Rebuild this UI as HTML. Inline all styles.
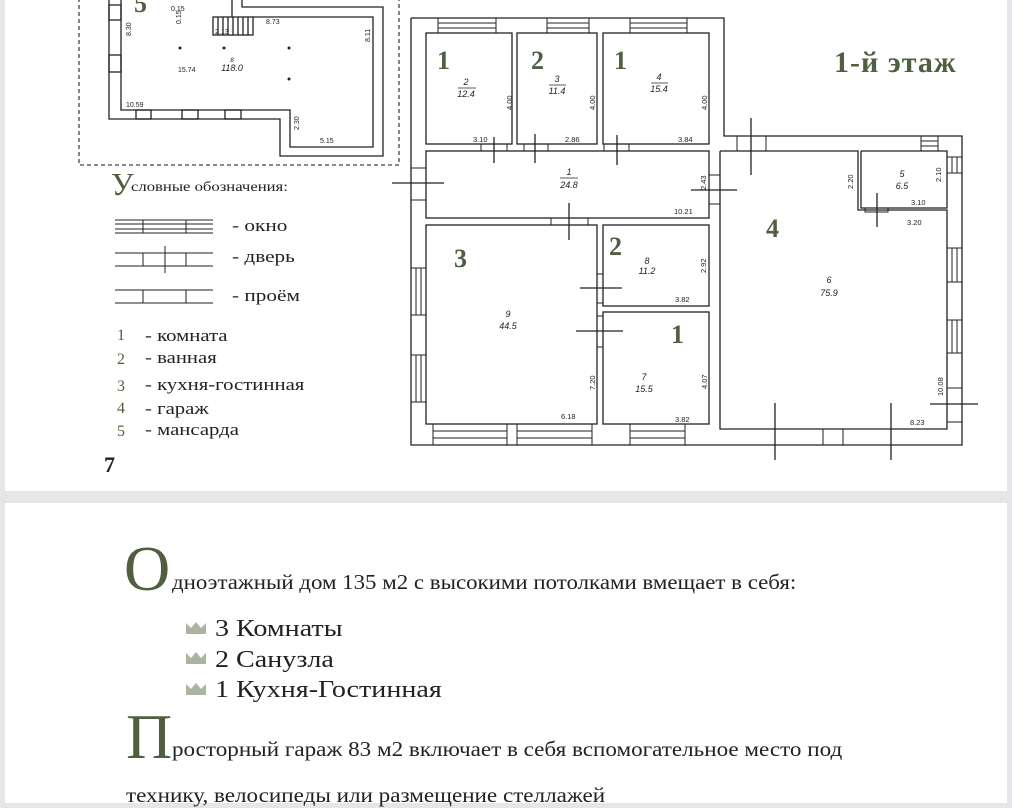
<!DOCTYPE html>
<html><head><meta charset="utf-8"><style>
body{margin:0;width:1012px;height:785px;background:#e6e6e9;position:relative;overflow:hidden;font-family:"Liberation Serif",serif}
.card{position:absolute;left:5px;right:5px;background:#fff}
.t{position:absolute;white-space:nowrap;color:#222;transform-origin:0 0}
.g{color:#4f5f3f}
</style></head><body>
<div class="card" style="top:0;height:491px"></div>
<div class="card" style="top:503px;height:300px"></div>
<svg style="position:absolute;left:0;top:0" width="1012" height="500" font-family="Liberation Sans, sans-serif">
<g fill="none" stroke="#222" stroke-width="1.3">
<rect x="79" y="-5" width="320" height="170" stroke-dasharray="4,3" stroke="#444"/>
<polyline points="109,0 109,119 280,119 280,156 383,156 383,7 242,7 242,0"/>
<polyline points="121,0 121,110 290,110 290,147 373,147 373,17 253,17"/>
<line x1="232" y1="0" x2="232" y2="17"/>
<rect x="213" y="17" width="40" height="18"/>
<path d="M218,17v18M223,17v18M228,17v18M233,17v18M238,17v18M243,17v18M248,17v18"/>
<rect x="109" y="5" width="12" height="15"/><rect x="109" y="55" width="12" height="17"/>
<rect x="136" y="110" width="15" height="9"/><rect x="182" y="110" width="16" height="9"/><rect x="225" y="110" width="16" height="9"/>
<polyline points="411,18 724,18 724,136 962,136 962,445 411,445 411,18"/>
<rect x="426" y="33" width="86" height="111"/>
<rect x="517" y="33" width="80" height="111"/>
<rect x="603" y="33" width="106" height="111"/>
<rect x="426" y="151" width="283" height="67"/>
<rect x="426" y="225" width="171" height="199"/>
<rect x="603" y="225" width="106" height="81"/>
<rect x="603" y="312" width="106" height="112"/>
<polyline points="720,151 858,151 858,210 947,210 947,429 720,429 720,151"/>
<polyline points="861,151 947,151 947,208 861,208 861,151"/>
<g stroke-width="1">
<rect x="438" y="18" width="58" height="15"/><path d="M438,23h58M438,28h58"/>
<rect x="547" y="18" width="42" height="15"/><path d="M547,23h42M547,28h42"/>
<rect x="630" y="18" width="57" height="15"/><path d="M630,23h57M630,28h57"/>
<rect x="433" y="424" width="74" height="21"/><path d="M433,431h74M433,438h74"/>
<rect x="517" y="424" width="75" height="21"/><path d="M517,431h75M517,438h75"/>
<rect x="630" y="424" width="55" height="21"/><path d="M630,431h55M630,438h55"/>
<rect x="411" y="268" width="15" height="47"/><path d="M416,268v47M421,268v47"/>
<rect x="411" y="355" width="15" height="47"/><path d="M416,355v47M421,355v47"/>
<rect x="947" y="248" width="15" height="34"/><path d="M952,248v34M957,248v34"/>
<rect x="947" y="320" width="15" height="33"/><path d="M952,320v33M957,320v33"/>
<rect x="947" y="157" width="15" height="16"/><path d="M952,157v16M957,157v16"/>
<rect x="921" y="136" width="17" height="15"/><path d="M921,141h17M921,146h17"/>
<rect x="481" y="144" width="26" height="7"/><rect x="524" y="144" width="24" height="7"/><rect x="604" y="144" width="25" height="7"/>
<rect x="551" y="218" width="37" height="7"/><rect x="709" y="175" width="11" height="29"/><rect x="737" y="136" width="29" height="15"/>
<rect x="597" y="274" width="6" height="29"/><rect x="597" y="316" width="6" height="31"/>
<rect x="865" y="208" width="23" height="4"/><rect x="947" y="388" width="15" height="34"/>
<rect x="411" y="168" width="15" height="32"/><rect x="823" y="429" width="20" height="16"/>
</g>
<path d="M494,137v26M535,134v29M617,135v30M569,203v37M691,190h46M751,118v57M580,288h42M576,331h47M877,193v34M930,404h48M775,403v57M891,403v57M392,183h52"/>
<g stroke-width="1">
<path d="M115,220h98M115,233h98M115,224h98M115,229h98M143,220v13M186,220v13"/>
<path d="M115,253h98M115,266h98M143,253v13M186,253v13M165,246v27"/>
<path d="M115,290h98M115,303h98M143,290v13M186,290v13"/>
</g>
</g>
<g fill="#222"><circle cx="180" cy="48" r="1.5"/><circle cx="224" cy="48" r="1.5"/><circle cx="289" cy="48" r="1.5"/><circle cx="289" cy="79" r="1.5"/></g>
<g font-size="7" fill="#222">
<text x="171" y="11">0.15</text><text x="266" y="24">8.73</text><text x="178" y="72">15.74</text><text x="126" y="107">10.59</text><text x="320" y="143">5.15</text><text x="215" y="34">2.13</text>
<text transform="translate(131,36) rotate(-90)">8.30</text><text transform="translate(370,42) rotate(-90)">8.11</text><text transform="translate(299,130) rotate(-90)">2.30</text><text transform="translate(181,24) rotate(-90)">0.15</text>
</g>
<g font-size="9" fill="#222" font-style="italic" text-anchor="middle">
<text x="232" y="62" font-size="6">8</text><text x="232" y="71">118.0</text>
<text x="466" y="85">2</text><text x="466" y="97">12.4</text><line x1="458" y1="88" x2="476" y2="88" stroke="#222" stroke-width=".7"/>
<text x="557" y="82">3</text><text x="557" y="94">11.4</text><line x1="549" y1="85" x2="566" y2="85" stroke="#222" stroke-width=".7"/>
<text x="659" y="80">4</text><text x="659" y="92">15.4</text><line x1="651" y1="83" x2="668" y2="83" stroke="#222" stroke-width=".7"/>
<text x="569" y="175">1</text><text x="569" y="188">24.8</text><line x1="560" y1="178" x2="578" y2="178" stroke="#222" stroke-width=".7"/>
<text x="647" y="264">8</text><text x="647" y="274">11.2</text>
<text x="508" y="317">9</text><text x="508" y="329">44.5</text>
<text x="644" y="380">7</text><text x="644" y="392">15.5</text>
<text x="829" y="283">6</text><text x="829" y="296">75.9</text>
<text x="902" y="177">5</text><text x="902" y="189">6.5</text>
</g>
<g font-size="7.5" fill="#222">
<text x="473" y="142">3.10</text><text x="565" y="142">2.86</text><text x="678" y="142">3.84</text><text x="674" y="214">10.21</text>
<text x="675" y="302">3.82</text><text x="561" y="419">6.18</text><text x="675" y="422">3.82</text><text x="911" y="205">3.10</text><text x="907" y="225">3.20</text><text x="910" y="425">8.23</text>
<text transform="translate(512,110) rotate(-90)">4.00</text><text transform="translate(595,110) rotate(-90)">4.00</text><text transform="translate(707,110) rotate(-90)">4.00</text>
<text transform="translate(706,190) rotate(-90)">2.43</text><text transform="translate(706,273) rotate(-90)">2.92</text><text transform="translate(595,390) rotate(-90)">7.20</text><text transform="translate(707,389) rotate(-90)">4.07</text>
<text transform="translate(853,189) rotate(-90)">2.20</text><text transform="translate(941,182) rotate(-90)">2.10</text><text transform="translate(943,396) rotate(-90)">10.08</text>
</g>
<g font-family="Liberation Serif, serif" fill="#4f5f3f" font-size="26" font-weight="bold">
<text x="437" y="69">1</text><text x="531" y="69">2</text><text x="614" y="69">1</text><text x="454" y="267">3</text><text x="609" y="255">2</text><text x="671" y="343">1</text><text x="766" y="237">4</text>
<text x="134" y="12">5</text>
<text x="834" y="72" font-size="30" letter-spacing="1">1-й этаж</text>
</g>
</svg>
<div class="t g" style="left:111px;top:166px;font-size:32px">У</div>
<div class="t" style="left:131px;top:180px;font-size:14px;transform:scaleX(1.19)">словные обозначения:</div>
<div class="t" style="left:232px;top:216px;font-size:17px;transform:scaleX(1.25)">- окно</div>
<div class="t" style="left:232px;top:247px;font-size:17px;transform:scaleX(1.25)">- дверь</div>
<div class="t" style="left:232px;top:286px;font-size:17px;transform:scaleX(1.25)">- проём</div>
<div class="t g" style="left:117px;top:324px;font-size:16px;line-height:24px">1<br>2<br><span style="position:relative;top:3px">3</span><br><span style="position:relative;top:1px">4</span><br>5</div>
<div class="t" style="left:145px;top:324px;font-size:17px;line-height:24px;transform:scaleX(1.22)">- комната</div>
<div class="t" style="left:145px;top:346px;font-size:17px;line-height:24px;transform:scaleX(1.22)">- ванная</div>
<div class="t" style="left:145px;top:373px;font-size:17px;line-height:24px;transform:scaleX(1.22)">- кухня-гостинная</div>
<div class="t" style="left:145px;top:397px;font-size:17px;line-height:24px;transform:scaleX(1.22)">- гараж</div>
<div class="t" style="left:145px;top:418px;font-size:17px;line-height:24px;transform:scaleX(1.22)">- мансарда</div>
<div class="t" style="left:104px;top:452px;font-size:22px;font-weight:bold">7</div>

<div class="t g" style="left:124px;top:534px;font-size:64px;line-height:70px">О</div>
<div class="t" style="left:172px;top:570px;font-size:21px;transform:scaleX(1.09)">дноэтажный дом 135 м2 с высокими потолками вмещает в себя:</div>
<svg style="position:absolute;left:186px;top:620px" width="22" height="80"><g fill="#aab4a0"><path d="M0,3 L5,8 L10,2 L15,8 L20,3 L20,14 L0,14Z"/><path d="M0,33 L5,38 L10,32 L15,38 L20,33 L20,44 L0,44Z"/><path d="M0,64 L5,69 L10,63 L15,69 L20,64 L20,75 L0,75Z"/></g></svg>
<div class="t" style="left:215px;top:614px;font-size:24px;line-height:30.5px;transform:scaleX(1.17)">3 Комнаты<br>2 Санузла<br>1 Кухня-Гостинная</div>
<div class="t g" style="left:126px;top:702px;font-size:64px;line-height:70px">П</div>
<div class="t" style="left:172px;top:737px;font-size:21px;transform:scaleX(1.1)">росторный гараж 83 м2 включает в себя вспомогательное место под</div>
<div class="t" style="left:126px;top:783px;font-size:21px;transform:scaleX(1.1)">технику, велосипеды или размещение стеллажей</div>
</body></html>
